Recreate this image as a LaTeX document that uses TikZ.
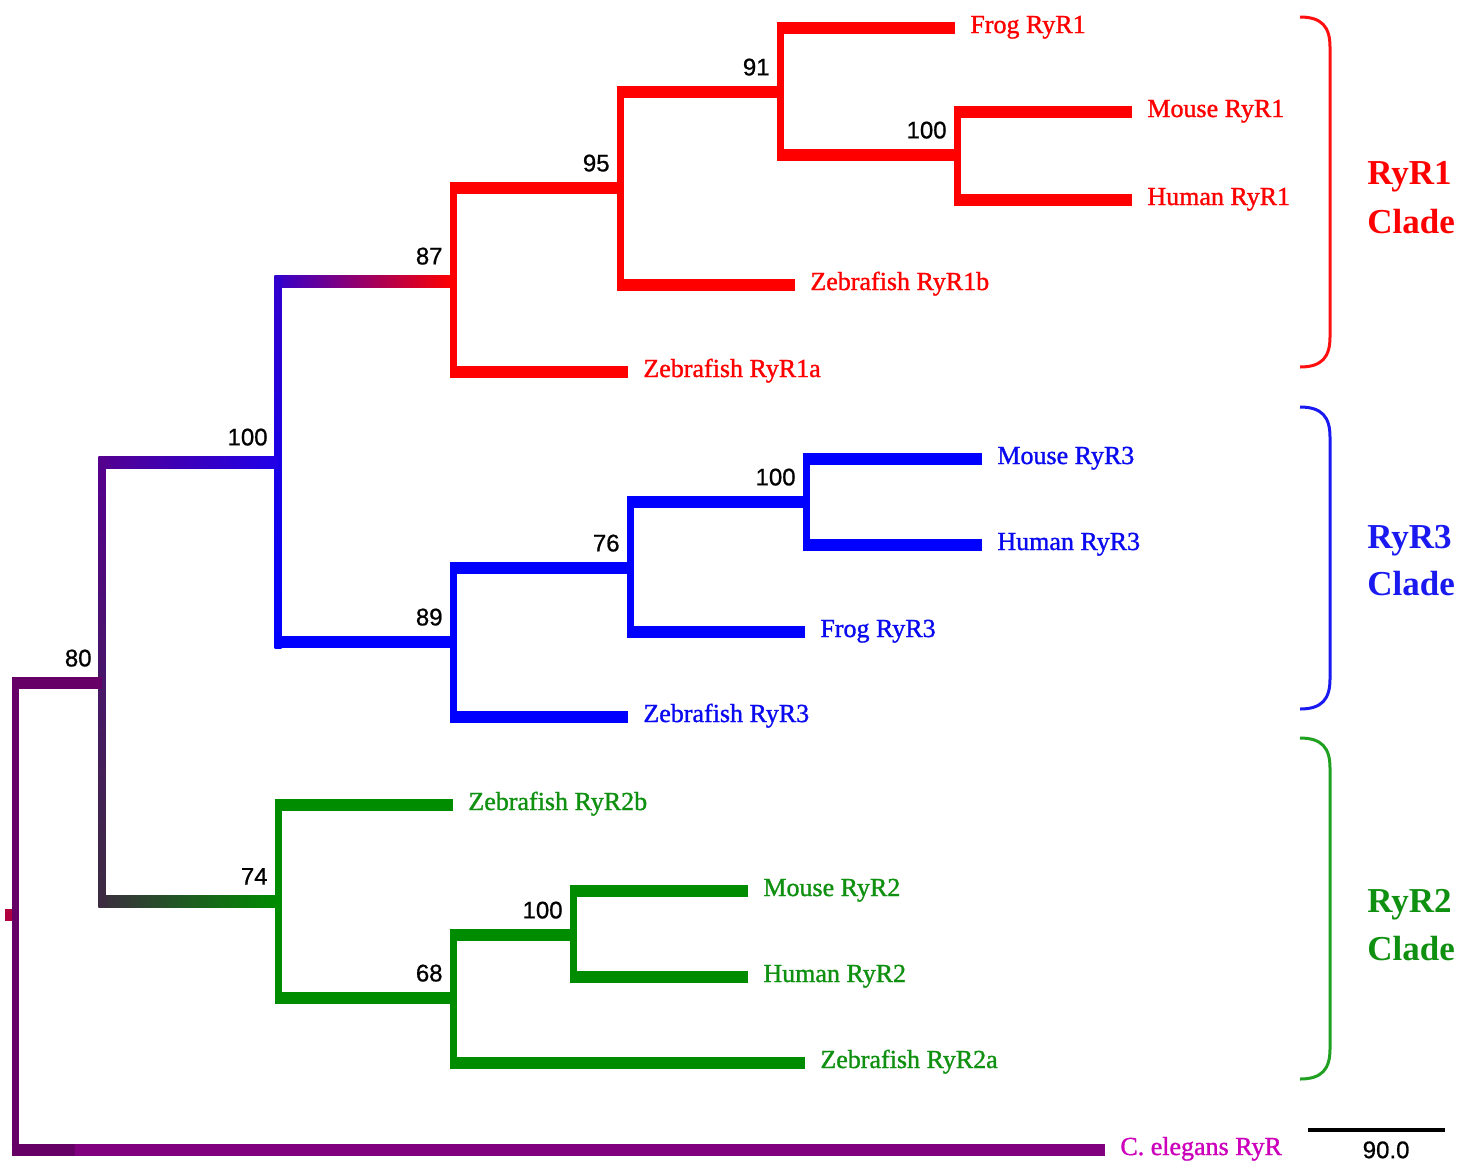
\documentclass[tikz,border=0pt]{standalone}
\usepackage{fontspec}
\setmainfont{Liberation Serif}
\setsansfont{Liberation Sans}
\newfontfamily\leaffont[FakeBold=1.2]{Liberation Serif}
\newfontfamily\bootfont[FakeBold=0.8]{Liberation Sans}
\usetikzlibrary{positioning, calc}
\definecolor{ryrred}{HTML}{FF0000}
\definecolor{ryrblue}{HTML}{0000FF}
\definecolor{ryrgreen}{HTML}{008C00}
\definecolor{leafblue}{HTML}{0A0AF0}
\definecolor{leafgreen}{HTML}{109010}
\definecolor{bracered}{HTML}{FF1010}
\definecolor{braceblue}{HTML}{1A1AF0}
\definecolor{bracegreen}{HTML}{20A020}
\definecolor{rootpurple}{HTML}{660066}
\definecolor{celpurple}{HTML}{800080}
\definecolor{celpink}{HTML}{CC00BB}
\definecolor{rootmark}{HTML}{B00040}
\definecolor{stemviolet}{HTML}{3300CC}
\definecolor{stemindigo}{HTML}{2000E8}
\definecolor{stempurple}{HTML}{55008F}
\definecolor{stemplum}{HTML}{600062}
\definecolor{stemgrey}{HTML}{3C2C40}

\begin{document}
\begin{tikzpicture}[
    x=0.5pt, y=-0.5pt,
    hbranch/.style={line width=6pt, shorten <=-1.75pt},
    vbranch/.style={line width=3.5pt, shorten <=-3pt, shorten >=-3pt},
    leaf/.style={anchor=base west, inner sep=0pt, yshift=-2.5pt, font=\leaffont\fontsize{13}{15}\selectfont},
    boot/.style={anchor=south east, inner sep=0pt, xshift=-5pt, yshift=8pt,
                 font=\bootfont\fontsize{12}{14}\selectfont},
    clade/.style={anchor=base west, inner sep=0pt, font=\bfseries\fontsize{17.5}{21}\selectfont},
    brace/.style={line width=1.5pt}
]
\useasboundingbox (0,0) rectangle (1461,1164);

% --- Internal nodes ---
\coordinate (root)  at (15,915);
\coordinate (vert)  at (102,683);
\coordinate (ryr13) at (278,462);
\coordinate (ryr1)  at (453,281);
\coordinate (r95)   at (620,188);
\coordinate (r91)   at (780,92);
\coordinate (mam1)  at (957,155);
\coordinate (ryr3)  at (453,642);
\coordinate (r76)   at (630,568);
\coordinate (mam3)  at (806,502);
\coordinate (ryr2)  at (278,901);
\coordinate (r68)   at (453,998);
\coordinate (mam2)  at (573,935);

% --- Leaves ---
\coordinate (frog1)  at (955,28);
\coordinate (mouse1) at (1132,112);
\coordinate (human1) at (1132,200);
\coordinate (zf1b)   at (795,285);
\coordinate (zf1a)   at (628,372);
\coordinate (mouse3) at (982,459);
\coordinate (human3) at (982,545);
\coordinate (frog3)  at (805,632);
\coordinate (zf3)    at (628,717);
\coordinate (zf2b)   at (453,805);
\coordinate (mouse2) at (748,891);
\coordinate (human2) at (748,977);
\coordinate (zf2a)   at (805,1063);
\coordinate (cel)    at (1105,1150);

% --- Stem branches (colour blends) ---
\shade[left color=stemviolet, right color=ryrred]
  ($(ryr13 |- ryr1)+(-3.5,-6)$) rectangle ($(ryr1)+(0,6)$);
\shade[top color=stemviolet, bottom color=ryrblue]
  ($(ryr13 |- ryr1)+(-3.5,-6)$) rectangle ($(ryr13 |- ryr3)+(3.5,6)$);
\shade[left color=stempurple, right color=stemindigo]
  ($(vert |- ryr13)+(-3.5,-6)$) rectangle ($(ryr13)+(0,6)$);
\shade[left color=stemgrey, right color=ryrgreen]
  ($(vert |- ryr2)+(-3.5,-6)$) rectangle ($(ryr2)+(0,6)$);
\shade[top color=stempurple, middle color=stemplum, bottom color=stemgrey]
  ($(vert |- ryr13)+(-3.5,-6)$) rectangle ($(vert |- ryr2)+(3.5,6)$);

% --- Root ---
\draw[hbranch, rootpurple] (root |- vert) -- (vert);
\draw[vbranch, rootpurple] (root |- vert) -- (root |- cel);
\draw[hbranch, celpurple] (root |- cel) -- (cel);
\draw[hbranch, rootpurple] (root |- cel) -- ($(root |- cel)+(60,0)$);
\fill[rootmark] ($(root)+(-10,-6)$) rectangle ($(root)+(-3.5,6)$);

% --- RyR1 clade ---
\foreach \p/\c in {ryr1/r95, ryr1/zf1a, r95/r91, r95/zf1b, r91/frog1, r91/mam1, mam1/mouse1, mam1/human1}
  \draw[hbranch, ryrred] (\p |- \c) -- (\c);
\foreach \p/\a/\b in {ryr1/r95/zf1a, r95/r91/zf1b, r91/frog1/mam1, mam1/mouse1/human1}
  \draw[vbranch, ryrred] (\p |- \a) -- (\p |- \b);

% --- RyR3 clade ---
\foreach \p/\c in {ryr13/ryr3, ryr3/r76, ryr3/zf3, r76/mam3, r76/frog3, mam3/mouse3, mam3/human3}
  \draw[hbranch, ryrblue] (\p |- \c) -- (\c);
\foreach \p/\a/\b in {ryr3/r76/zf3, r76/mam3/frog3, mam3/mouse3/human3}
  \draw[vbranch, ryrblue] (\p |- \a) -- (\p |- \b);

% --- RyR2 clade ---
\foreach \p/\c in {ryr2/zf2b, ryr2/r68, r68/mam2, r68/zf2a, mam2/mouse2, mam2/human2}
  \draw[hbranch, ryrgreen] (\p |- \c) -- (\c);
\foreach \p/\a/\b in {ryr2/zf2b/r68, r68/mam2/zf2a, mam2/mouse2/human2}
  \draw[vbranch, ryrgreen] (\p |- \a) -- (\p |- \b);

% --- Leaf labels ---
\foreach \lf/\txt in {frog1/Frog RyR1, mouse1/Mouse RyR1, human1/Human RyR1,
                      zf1b/Zebrafish RyR1b, zf1a/Zebrafish RyR1a}
  \node[right=7.5pt of \lf, leaf, ryrred] (t\lf) {\txt};
\foreach \lf/\txt in {mouse3/Mouse RyR3, human3/Human RyR3, frog3/Frog RyR3, zf3/Zebrafish RyR3}
  \node[right=7.5pt of \lf, leaf, leafblue] (t\lf) {\txt};
\foreach \lf/\txt in {zf2b/Zebrafish RyR2b, mouse2/Mouse RyR2, human2/Human RyR2, zf2a/Zebrafish RyR2a}
  \node[right=7.5pt of \lf, leaf, leafgreen] (t\lf) {\txt};
\node[right=7.5pt of cel, leaf, celpink] (tcel) {C. elegans RyR};

% --- Bootstrap values ---
\foreach \nd/\val in {vert/80, ryr13/100, ryr1/87, r95/95, r91/91, mam1/100,
                      ryr3/89, r76/76, mam3/100, ryr2/74, r68/68, mam2/100}
  \node[boot] (b\nd) at (\nd) {\val};

% --- Clade brackets ---
\foreach \ya/\yb/\col in {17/367/bracered, 407/709/braceblue, 738/1079/bracegreen}
  \draw[brace, \col] (1300,\ya) .. controls (1322,\ya) and (1330,\ya+10) .. (1330,\ya+30)
    -- (1330,\yb-30) .. controls (1330,\yb-10) and (1322,\yb) .. (1300,\yb);

\node[clade, ryrred] (c1a) at (1367,184) {RyR1};
\node[clade, ryrred] (c1b) at (1367,233) {Clade};
\node[clade, braceblue] (c3a) at (1367,548) {RyR3};
\node[clade, braceblue] (c3b) at (1367,595) {Clade};
\node[clade, leafgreen] (c2a) at (1367,912) {RyR2};
\node[clade, leafgreen] (c2b) at (1367,960) {Clade};

% --- Scale bar ---
\coordinate (sbl) at (1308,1130);
\coordinate (sbr) at (1445,1130);
\draw[line width=2pt] (sbl) -- (sbr);
\node[anchor=north, inner sep=0pt, font=\bootfont\fontsize{12}{14}\selectfont] (sbtext)
  at ($(sbl)!0.57!(sbr)+(0,11)$) {90.0};

\end{tikzpicture}
\end{document}
